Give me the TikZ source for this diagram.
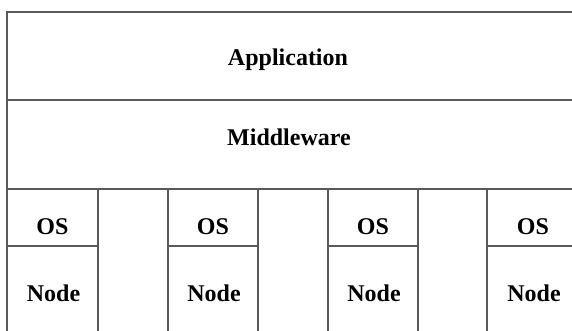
\documentclass[tikz,border=0pt]{standalone}
\usepackage{fontspec}
\setmainfont{Liberation Serif}
\tikzset{
  grid line/.style={draw=black!65, line width=1.1pt},
  label txt/.style={font=\fontsize{18}{20}\selectfont\bfseries, text=black, inner sep=0pt},
}
\begin{document}
\begin{tikzpicture}[x=0.75pt,y=-0.75pt]
\useasboundingbox (0,0) rectangle (572,331);
\clip (0,0) rectangle (572,331);
% outer structure
\coordinate (tl) at (7,12);
\coordinate (tr) at (590,12);
\coordinate (ml) at (7,100);
\coordinate (mr) at (590,100);
\coordinate (bl) at (7,189);
\coordinate (br) at (590,189);
\draw[grid line] (tr) -- (tl) -- (7,340);
\draw[grid line] (ml) -- (mr);
\draw[grid line] (bl) -- (br);
% text
\node[label txt] (app) at (288,60) {Application};
\node[label txt] (mid) at (289,137) {Middleware};
% columns
\foreach \l/\r/\i in {7/98/1,168/258/2,328/418/3,487/579/4}{
  \coordinate (c\i l) at (\l,246);
  \coordinate (c\i r) at (\r,246);
  \draw[grid line] (\l,189) -- (\l,340);
  \draw[grid line] (\r,189) -- (\r,340);
  \draw[grid line] (c\i l) -- (c\i r);
  \node[label txt] (os\i) at ({(\l+\r)/2},227) {OS};
  \node[label txt] (node\i) at ({(\l+\r)/2+1},293) {Node};
}
\end{tikzpicture}
\end{document}
